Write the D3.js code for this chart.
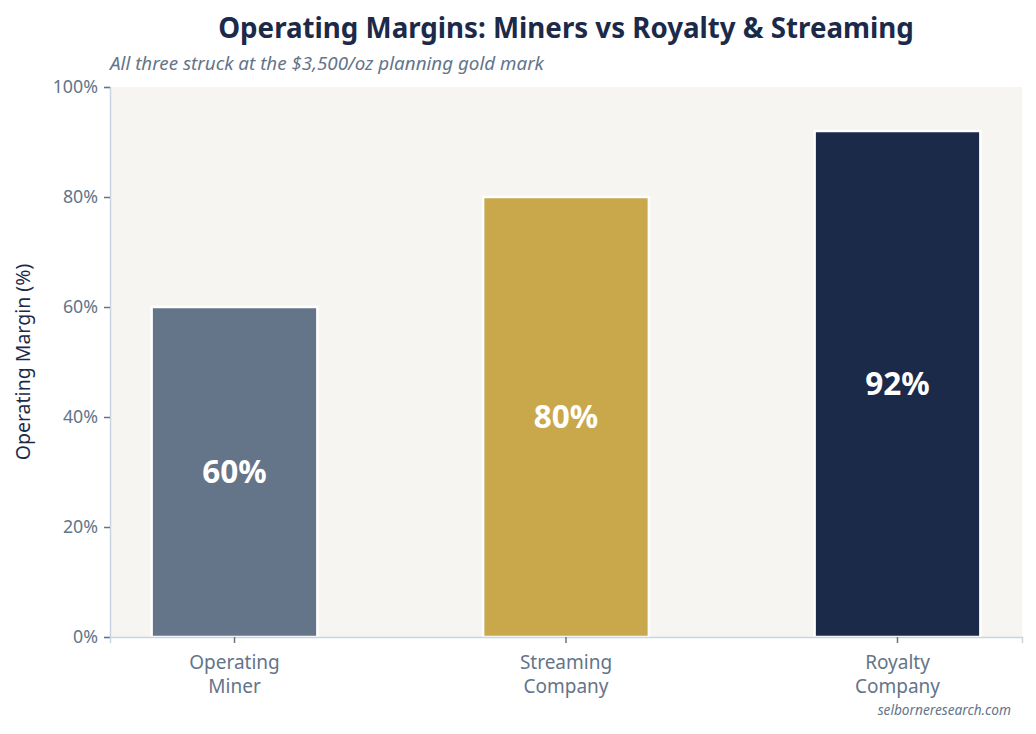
<!DOCTYPE html>
<html>
<head>
<meta charset="utf-8">
<script src="https://cdn.jsdelivr.net/npm/d3@7"></script>
<style>
  body { margin: 0; background: #fff; }
  text { font-family: "Noto Sans", "Open Sans", sans-serif; }
</style>
</head>
<body>
<div class="chart"></div>
<script>
var categories = ['Operating\nMiner', 'Streaming\nCompany', 'Royalty\nCompany'];
var margins = [60, 80, 92];
var barColors = ['#647489', '#c9a84c', '#1c2a4a'];
var yTicks = [0, 20, 40, 60, 80, 100];

var W = 1036, H = 734;
var margin = { top: 87, right: 14, bottom: 97, left: 110 };
var width = W - margin.left - margin.right;
var height = H - margin.top - margin.bottom;

var svg = d3.select('.chart')
	.append('svg')
		.attr('width', W)
		.attr('height', H);

var g = svg.append('g')
	.attr('transform', `translate(${margin.left}, ${margin.top})`);

var xScale = d3.scaleBand()
	.domain(categories)
	.range([0, width])
	.paddingInner(0.5)
	.paddingOuter(0.1256);

var yScale = d3.scaleLinear()
	.domain([0, 100])
	.range([height, 0]);

// plot background
g.append('rect')
	.attr('width', width)
	.attr('height', height)
	.attr('fill', '#f6f5f1');

// bars
g.selectAll('.bar')
	.data(margins)
	.enter()
	.append('rect')
	.attr('class', 'bar')
	.attr('x', (d, i) => xScale(categories[i]))
	.attr('y', d => yScale(d))
	.attr('width', xScale.bandwidth())
	.attr('height', d => height - yScale(d))
	.attr('fill', (d, i) => barColors[i])
	.attr('stroke', '#fff')
	.attr('stroke-width', 2.5);

// value labels
g.selectAll('.val')
	.data(margins)
	.enter()
	.append('text')
	.attr('x', (d, i) => xScale(categories[i]) + xScale.bandwidth() / 2)
	.attr('y', d => yScale(d / 2))
	.attr('dy', '0.36em')
	.attr('text-anchor', 'middle')
	.attr('fill', '#fff')
	.attr('font-size', 31.5)
	.attr('font-weight', 'bold')
	.text(d => d + '%');

// axes
var yAxis = d3.axisLeft(yScale)
	.tickValues(yTicks)
	.tickFormat(d => d + '%')
	.tickSize(6)
	.tickPadding(6);

var yg = g.append('g').call(yAxis);

var xAxis = d3.axisBottom(xScale)
	.tickSize(6)
	.tickPadding(6)
	.tickFormat('');

var xg = g.append('g')
	.attr('transform', `translate(0, ${height})`)
	.call(xAxis);

[yg, xg].forEach(a => {
	a.select('.domain').attr('stroke', '#cbd5e1').attr('stroke-width', 1.5);
	a.selectAll('.tick line').attr('stroke', '#647489').attr('stroke-width', 1.5);
	a.selectAll('.tick text')
		.attr('fill', '#647489')
		.attr('font-size', 17.8)
		.style('font-family', '"Noto Sans", sans-serif');
});

// two-line category labels
xg.selectAll('.tick').each(function(d) {
	var t = d3.select(this).append('text')
		.attr('text-anchor', 'middle')
		.attr('fill', '#647489')
		.attr('font-size', 19)
		.style('font-family', '"Noto Sans", sans-serif');
	d.split('\n').forEach((line, k) => {
		t.append('tspan')
			.attr('x', 0)
			.attr('y', 32 + k * 24)
			.text(line);
	});
});

// titles
svg.append('text')
	.attr('x', margin.left + width / 2)
	.attr('y', 38)
	.attr('text-anchor', 'middle')
	.attr('fill', '#1c2a4a')
	.attr('font-size', 27.7)
	.attr('font-weight', 'bold')
	.text('Operating Margins: Miners vs Royalty & Streaming');

svg.append('text')
	.attr('x', margin.left)
	.attr('y', 70)
	.attr('fill', '#647489')
	.attr('font-size', 18.8)
	.attr('font-style', 'italic')
	.text('All three struck at the $3,500/oz planning gold mark');

svg.append('text')
	.attr('transform', `translate(30, ${margin.top + height / 2}) rotate(-90)`)
	.attr('text-anchor', 'middle')
	.attr('fill', '#1c2a4a')
	.attr('font-size', 19.5)
	.text('Operating Margin (%)');

svg.append('text')
	.attr('x', 1011)
	.attr('y', 715)
	.attr('text-anchor', 'end')
	.attr('fill', '#647489')
	.attr('font-size', 13.7)
	.attr('font-style', 'italic')
	.text('selborneresearch.com');
</script>
</body>
</html>
